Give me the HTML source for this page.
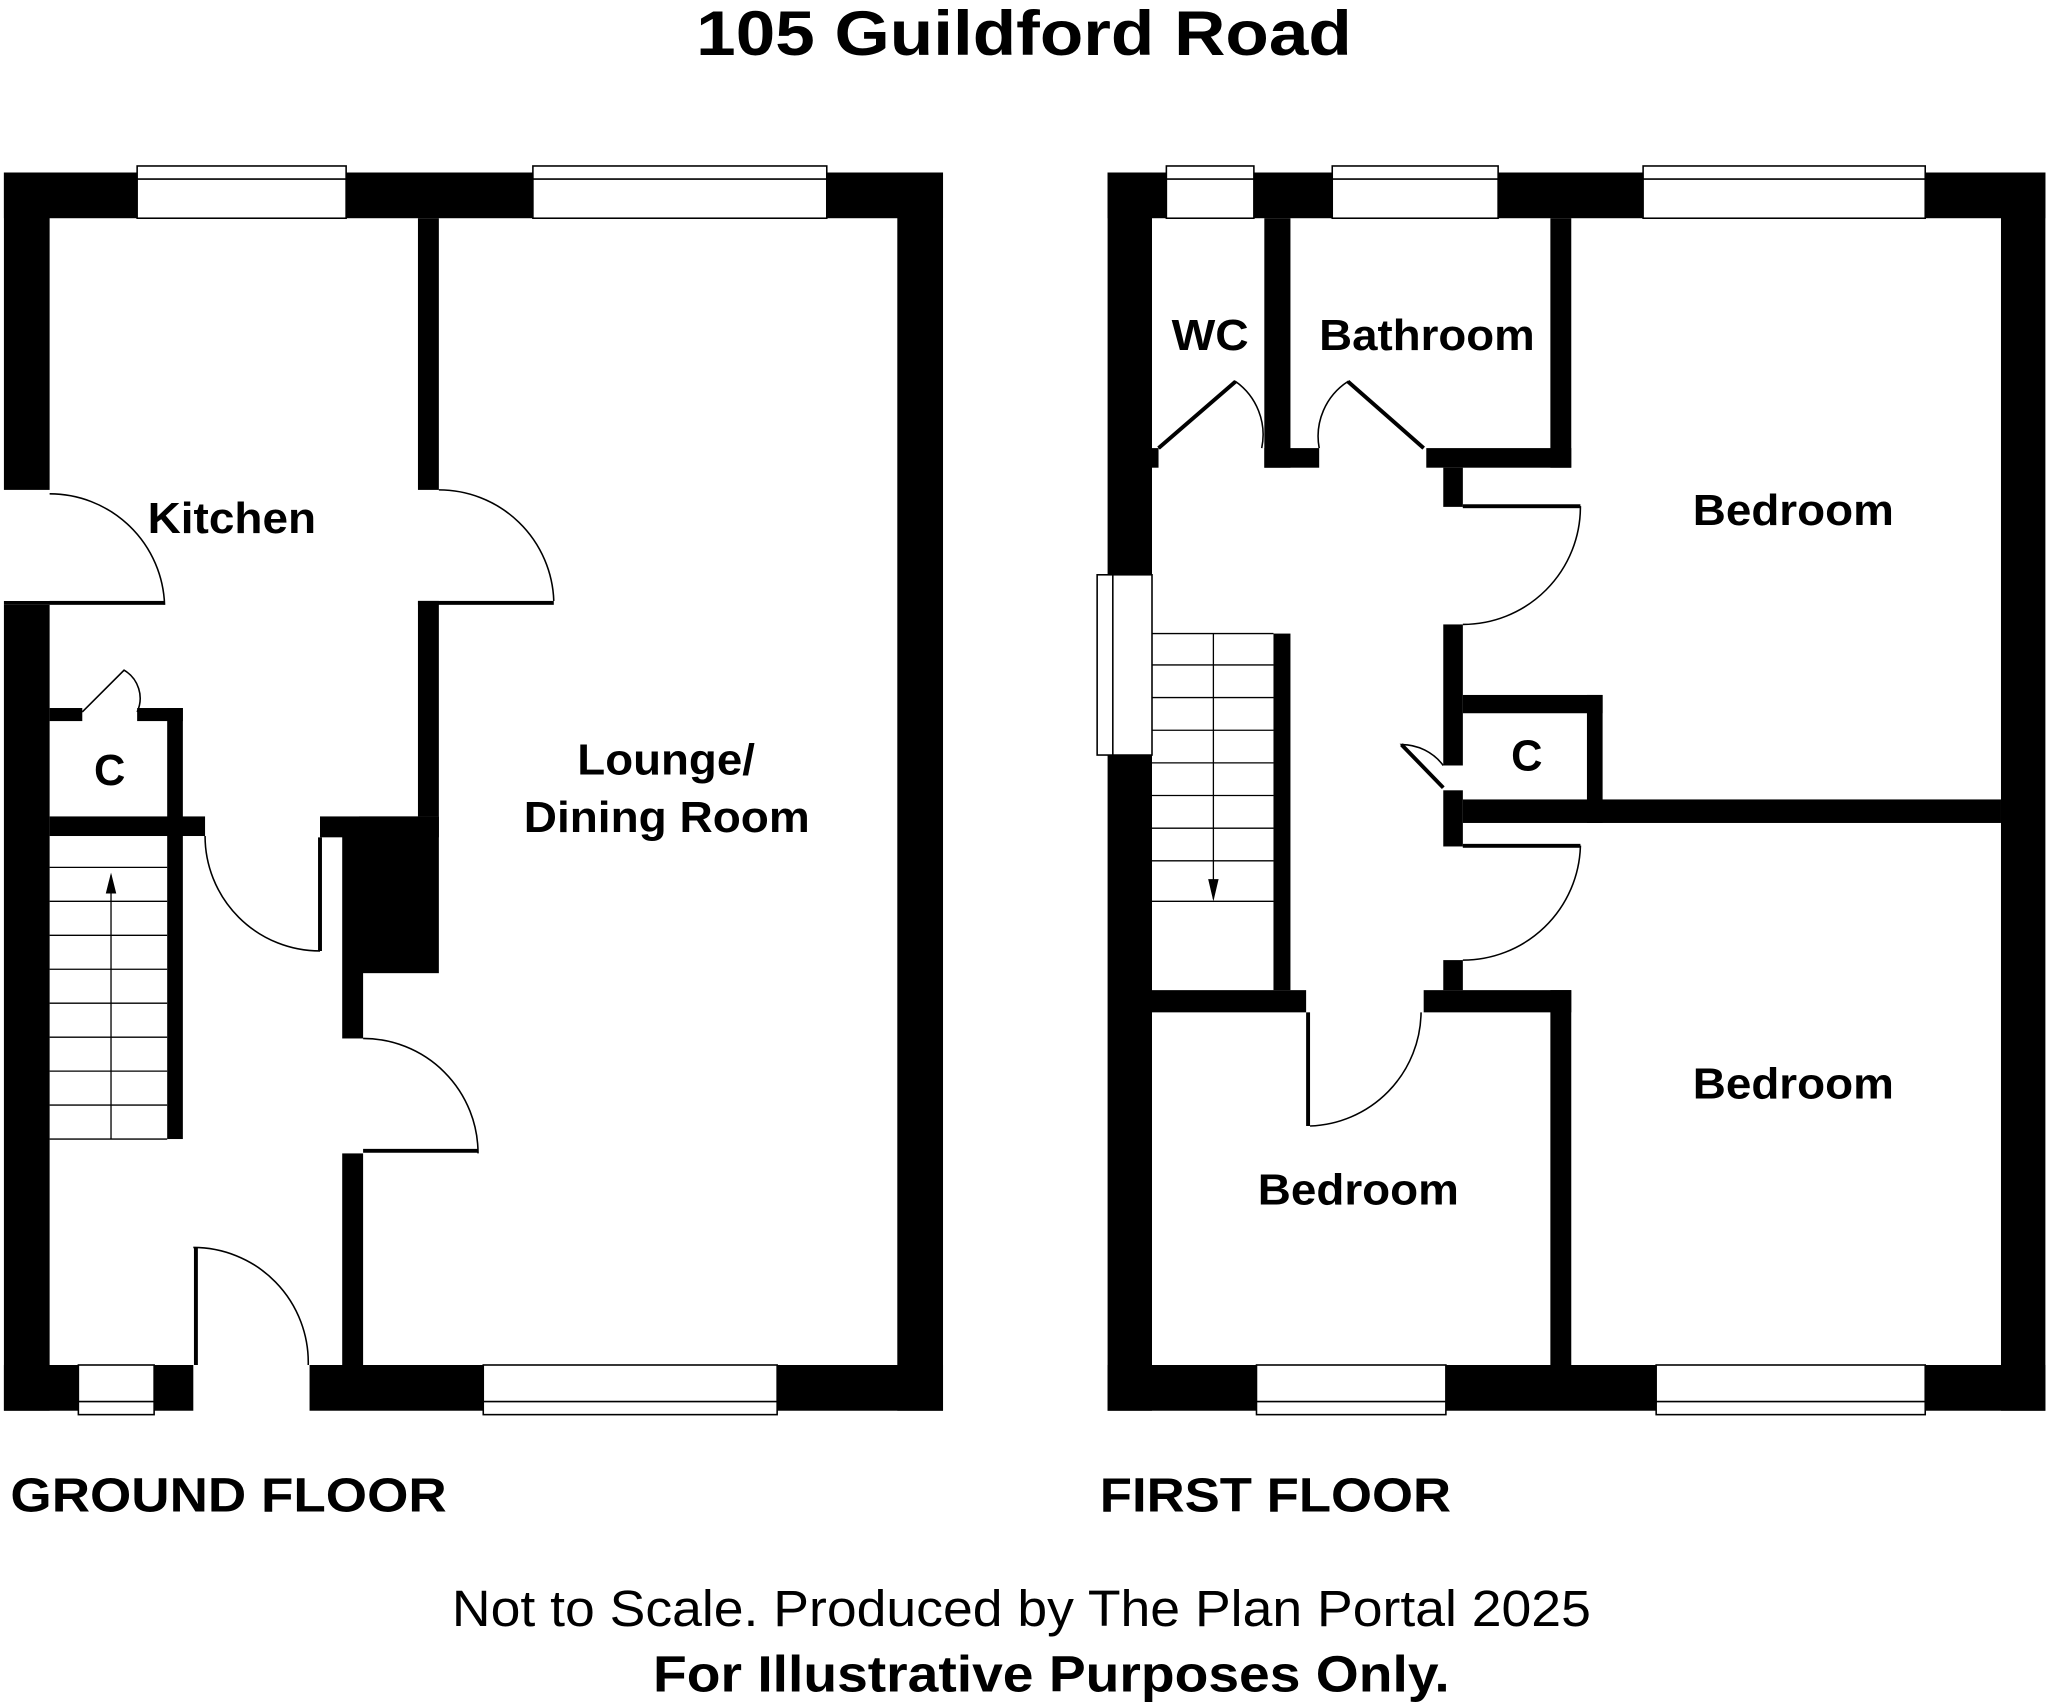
<!DOCTYPE html>
<html><head><meta charset="utf-8"><style>
html,body{margin:0;padding:0;background:#fff;width:2048px;height:1706px;overflow:hidden}
svg{display:block}
text{font-family:"Liberation Sans",Arial,sans-serif;font-weight:bold;fill:#000}
</style></head><body>
<svg width="2048" height="1706" viewBox="0 0 1568 1306" xmlns="http://www.w3.org/2000/svg">
<rect width="1568" height="1306" fill="#fff"/>
<text x="533" y="42" font-size="48" textLength="502" lengthAdjust="spacingAndGlyphs">105 Guildford Road</text>

<!-- GROUND FLOOR -->
<g fill="#000">
<rect x="3" y="132" width="719" height="35"/>
<rect x="3" y="1045" width="719" height="35"/>
<rect x="3" y="132" width="35" height="243"/>
<rect x="3" y="463" width="35" height="617"/>
<rect x="687" y="132" width="35" height="948"/>
<rect x="320" y="167" width="16" height="208"/>
<rect x="320" y="460" width="16" height="165"/>
<rect x="245" y="625" width="91" height="16"/>
<rect x="275" y="625" width="61" height="120"/>
<rect x="262" y="640" width="16" height="155"/>
<rect x="262" y="883" width="16" height="162"/>
<rect x="38" y="625" width="119" height="15"/>
<rect x="38" y="542" width="25" height="10"/>
<rect x="105" y="542" width="35" height="10"/>
<rect x="128" y="542" width="12" height="330"/>
<rect x="320" y="460" width="104" height="3"/>
<rect x="3" y="460" width="123" height="3"/>
</g>
<g fill="#fff" stroke="#000" stroke-width="1.2">
<rect x="105" y="127" width="160" height="40"/><line x1="105" y1="137" x2="265" y2="137"/>
<rect x="408" y="127" width="225" height="40"/><line x1="408" y1="137" x2="633" y2="137"/>
<rect x="60" y="1045" width="58" height="38"/><line x1="60" y1="1073" x2="118" y2="1073"/>
<rect x="370" y="1045" width="225" height="38"/><line x1="370" y1="1073" x2="595" y2="1073"/>
</g>
<rect x="148" y="1045" width="89" height="36" fill="#fff"/>
<rect x="0" y="376" width="38" height="84" fill="#fff"/>
<g fill="none" stroke="#000" stroke-width="1.2">
<path d="M38 378 A88 88 0 0 1 126 463"/>
<path d="M336 375 A88 88 0 0 1 424 460"/>
<path d="M157 640 A88 88 0 0 0 245 728"/><line x1="245" y1="641" x2="245" y2="728" stroke-width="3"/>
<path d="M278 795 A88 88 0 0 1 366 883"/><line x1="278" y1="881" x2="366" y2="881" stroke-width="3"/>
<path d="M148 955 A88 88 0 0 1 236 1045"/><line x1="150" y1="955" x2="150" y2="1045" stroke-width="3"/>
<path d="M63 545 L95 513 A25 25 0 0 1 105 545"/>
</g>
<g stroke="#000" stroke-width="1" fill="none">
<line x1="38" y1="664" x2="128" y2="664"/><line x1="38" y1="690" x2="128" y2="690"/>
<line x1="38" y1="716" x2="128" y2="716"/><line x1="38" y1="742" x2="128" y2="742"/>
<line x1="38" y1="768" x2="128" y2="768"/><line x1="38" y1="794" x2="128" y2="794"/>
<line x1="38" y1="820" x2="128" y2="820"/><line x1="38" y1="846" x2="128" y2="846"/>
<line x1="38" y1="872" x2="128" y2="872"/>
<line x1="85" y1="670" x2="85" y2="872"/>
</g>
<path d="M85 668 L81 684 L89 684 Z" fill="#000"/>
<text x="113" y="408" font-size="33" textLength="129" lengthAdjust="spacingAndGlyphs">Kitchen</text>
<text x="72" y="601" font-size="33" textLength="24" lengthAdjust="spacingAndGlyphs">C</text>
<text x="442" y="593" font-size="33" textLength="136" lengthAdjust="spacingAndGlyphs">Lounge/</text>
<text x="401" y="637" font-size="33" textLength="219" lengthAdjust="spacingAndGlyphs">Dining Room</text>
<text x="8" y="1157" font-size="37" textLength="334" lengthAdjust="spacingAndGlyphs">GROUND FLOOR</text>

<!-- FIRST FLOOR -->
<g fill="#000">
<rect x="848" y="132" width="718" height="35"/>
<rect x="848" y="1045" width="718" height="35"/>
<rect x="848" y="132" width="34" height="948"/>
<rect x="1532" y="132" width="34" height="948"/>
<rect x="968" y="167" width="20" height="191"/>
<rect x="968" y="343" width="42" height="15"/>
<rect x="1092" y="343" width="111" height="15"/>
<rect x="1187" y="167" width="16" height="191"/>
<rect x="882" y="343" width="5" height="15"/>
<rect x="1105" y="358" width="15" height="30"/>
<rect x="1105" y="478" width="15" height="108"/>
<rect x="1120" y="532" width="107" height="14"/>
<rect x="1215" y="532" width="12" height="98"/>
<rect x="1105" y="605" width="15" height="43"/>
<rect x="1120" y="612" width="412" height="18"/>
<rect x="1105" y="735" width="15" height="23"/>
<rect x="1090" y="758" width="113" height="17"/>
<rect x="1187" y="758" width="16" height="287"/>
<rect x="882" y="758" width="118" height="17"/>
<rect x="975" y="485" width="13" height="273"/>
<rect x="1120" y="386" width="90" height="3"/>
<rect x="1120" y="646" width="90" height="3"/>
<rect x="1000" y="775" width="3" height="87"/>
</g>
<g fill="#fff" stroke="#000" stroke-width="1.2">
<rect x="893" y="127" width="67" height="40"/><line x1="893" y1="137" x2="960" y2="137"/>
<rect x="1020" y="127" width="127" height="40"/><line x1="1020" y1="137" x2="1147" y2="137"/>
<rect x="1258" y="127" width="216" height="40"/><line x1="1258" y1="137" x2="1474" y2="137"/>
<rect x="840" y="440" width="42" height="138"/><line x1="852" y1="440" x2="852" y2="578"/>
<rect x="962" y="1045" width="145" height="38"/><line x1="962" y1="1073" x2="1107" y2="1073"/>
<rect x="1268" y="1045" width="206" height="38"/><line x1="1268" y1="1073" x2="1474" y2="1073"/>
</g>
<g fill="none" stroke="#000" stroke-width="1.2">
<path d="M887 343 L946 292 A50 50 0 0 1 966 343"/><line x1="887" y1="343" x2="946" y2="292" stroke-width="3"/>
<path d="M1090 343 L1032 292 A50 50 0 0 0 1010 343"/><line x1="1090" y1="343" x2="1032" y2="292" stroke-width="3"/>
<path d="M1120 388 L1210 388 A90 90 0 0 1 1120 478"/>
<path d="M1120 648 L1210 648 A90 90 0 0 1 1120 735"/>
<path d="M1105 586 A40 40 0 0 0 1073 570 L1105 603"/><line x1="1073" y1="570" x2="1105" y2="603" stroke-width="3"/>
<path d="M1003 862 A88 88 0 0 0 1088 775"/>
</g>
<g stroke="#000" stroke-width="1" fill="none">
<line x1="882" y1="485" x2="975" y2="485"/><line x1="882" y1="509" x2="975" y2="509"/>
<line x1="882" y1="534" x2="975" y2="534"/><line x1="882" y1="559" x2="975" y2="559"/>
<line x1="882" y1="584" x2="975" y2="584"/><line x1="882" y1="609" x2="975" y2="609"/>
<line x1="882" y1="634" x2="975" y2="634"/><line x1="882" y1="659" x2="975" y2="659"/>
<line x1="882" y1="690" x2="975" y2="690"/>
<line x1="929" y1="485" x2="929" y2="688"/>
</g>
<path d="M929 690 L925 673 L933 673 Z" fill="#000"/>
<text x="897" y="268" font-size="33" textLength="59" lengthAdjust="spacingAndGlyphs">WC</text>
<text x="1010" y="268" font-size="33" textLength="165" lengthAdjust="spacingAndGlyphs">Bathroom</text>
<text x="1296" y="402" font-size="33" textLength="154" lengthAdjust="spacingAndGlyphs">Bedroom</text>
<text x="1157" y="590" font-size="33" textLength="24" lengthAdjust="spacingAndGlyphs">C</text>
<text x="1296" y="841" font-size="33" textLength="154" lengthAdjust="spacingAndGlyphs">Bedroom</text>
<text x="963" y="922" font-size="33" textLength="154" lengthAdjust="spacingAndGlyphs">Bedroom</text>
<text x="842" y="1157" font-size="37" textLength="269" lengthAdjust="spacingAndGlyphs">FIRST FLOOR</text>

<text x="346" y="1245" font-size="39" style="font-weight:normal" textLength="872" lengthAdjust="spacingAndGlyphs">Not to Scale. Produced by The Plan Portal 2025</text>
<text x="500" y="1295" font-size="39" textLength="610" lengthAdjust="spacingAndGlyphs">For Illustrative Purposes Only.</text>
</svg>
</body></html>
